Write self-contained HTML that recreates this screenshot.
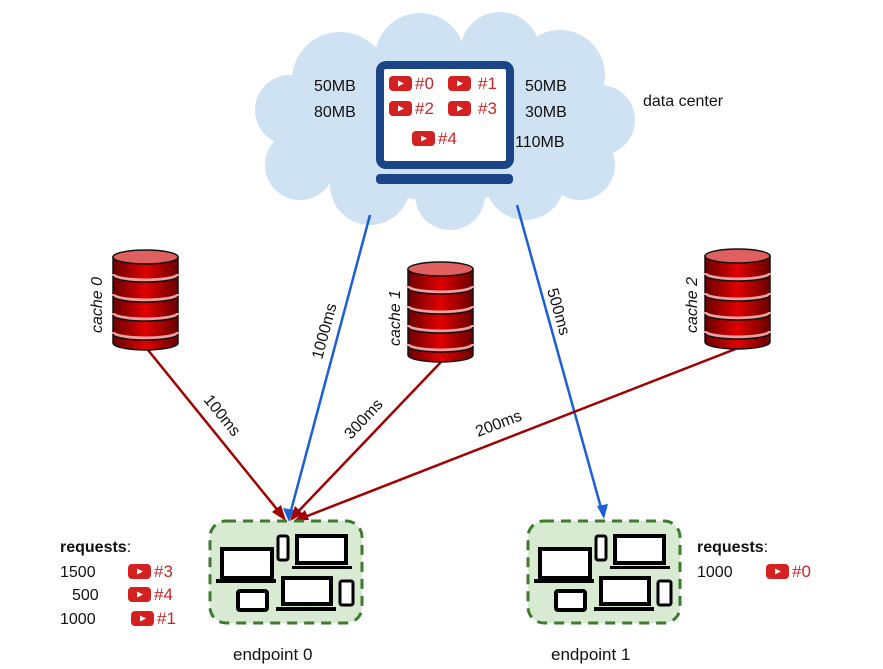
<!DOCTYPE html>
<html><head><meta charset="utf-8"><style>
html,body{margin:0;padding:0;background:#fff;}
svg{display:block;font-family:"Liberation Sans",sans-serif;}
</style></head><body>
<svg width="883" height="669" viewBox="0 0 883 669" xmlns="http://www.w3.org/2000/svg">
<defs>
<linearGradient id="cg" x1="0" x2="1" y1="0" y2="0">
<stop offset="0" stop-color="#6a0000"/><stop offset="0.5" stop-color="#e00000"/><stop offset="1" stop-color="#6a0000"/>
</linearGradient>
<g id="cyl">
<path d="M0,7 L0,93 A32.5,7 0 0 0 65,93 L65,7 Z" fill="url(#cg)" stroke="#111" stroke-width="1.5"/>
<ellipse cx="32.5" cy="7" rx="32.5" ry="7" fill="#e06060" stroke="#111" stroke-width="1.5"/>
<path d="M0,24 A32.5,6 0 0 0 65,24" fill="none" stroke="#f0a0a0" stroke-width="3"/>
<path d="M0,26 A32.5,6 0 0 0 65,26" fill="none" stroke="#111" stroke-width="1.5"/>
<path d="M0,44 A32.5,6 0 0 0 65,44" fill="none" stroke="#f0a0a0" stroke-width="3"/>
<path d="M0,46 A32.5,6 0 0 0 65,46" fill="none" stroke="#111" stroke-width="1.5"/>
<path d="M0,63 A32.5,6 0 0 0 65,63" fill="none" stroke="#f0a0a0" stroke-width="3"/>
<path d="M0,65 A32.5,6 0 0 0 65,65" fill="none" stroke="#111" stroke-width="1.5"/>
<path d="M0,82 A32.5,6 0 0 0 65,82" fill="none" stroke="#f0a0a0" stroke-width="3"/>
<path d="M0,84 A32.5,6 0 0 0 65,84" fill="none" stroke="#111" stroke-width="1.5"/>
</g>
<g id="yt">
<rect x="0" y="0" width="23" height="15" rx="4" fill="#d42020"/>
<path d="M9,4.5 L15,7.5 L9,10.5 Z" fill="#fff"/>
</g>
<g id="ep">
<rect x="10" y="21" width="152" height="102" rx="16" fill="#d9ead3" stroke="#3d7a2e" stroke-width="3" stroke-dasharray="10,7"/>
<rect x="22" y="49" width="50" height="29" fill="#fff" stroke="#000" stroke-width="4"/>
<rect x="16" y="79" width="60" height="4" fill="#000"/>
<rect x="78" y="36" width="10" height="24" rx="2" fill="#fff" stroke="#000" stroke-width="3"/>
<rect x="97" y="36" width="49" height="27" fill="#fff" stroke="#000" stroke-width="4"/>
<rect x="92" y="66" width="60" height="3" fill="#000"/>
<rect x="38" y="91" width="29" height="19" rx="2" fill="#fff" stroke="#000" stroke-width="4"/>
<rect x="83" y="78" width="48" height="26" fill="#fff" stroke="#000" stroke-width="4"/>
<rect x="76" y="107" width="60" height="4" fill="#000"/>
<rect x="140" y="81" width="13" height="24" rx="2" fill="#fff" stroke="#000" stroke-width="3"/>
</g>
</defs>

<!-- cloud -->
<g fill="#cfe2f3">
<ellipse cx="445" cy="120" rx="170" ry="80"/>
<circle cx="340" cy="80" r="48"/>
<circle cx="420" cy="58" r="45"/>
<circle cx="500" cy="52" r="40"/>
<circle cx="560" cy="75" r="45"/>
<circle cx="600" cy="120" r="35"/>
<circle cx="290" cy="110" r="35"/>
<circle cx="300" cy="165" r="35"/>
<circle cx="370" cy="185" r="40"/>
<circle cx="450" cy="195" r="35"/>
<circle cx="525" cy="180" r="40"/>
<circle cx="580" cy="165" r="35"/>
</g>
<!-- monitor -->
<rect x="380" y="65" width="130" height="100" rx="6" fill="#fff" stroke="#1c4587" stroke-width="8"/>
<rect x="376" y="174" width="137" height="10" rx="4" fill="#1c4587"/>
<use href="#yt" x="389" y="76"/><text x="415" y="89" font-size="17" fill="#c62828">#0</text>
<use href="#yt" x="448" y="76"/><text x="478" y="89" font-size="17" fill="#c62828">#1</text>
<use href="#yt" x="389" y="101"/><text x="415" y="114" font-size="17" fill="#c62828">#2</text>
<use href="#yt" x="448" y="101"/><text x="478" y="114" font-size="17" fill="#c62828">#3</text>
<use href="#yt" x="412" y="131"/><text x="438" y="144" font-size="17" fill="#c62828">#4</text>
<g font-size="16" fill="#111">
<text x="314" y="91">50MB</text><text x="314" y="117">80MB</text>
<text x="525" y="91">50MB</text><text x="525" y="117">30MB</text><text x="515" y="147">110MB</text>
<text x="643" y="106">data center</text>
</g>

<!-- lines -->
<g stroke-width="2.5" fill="none">
<line x1="370" y1="215" x2="289" y2="518" stroke="#1a5fd6"/>
<line x1="517" y1="205" x2="603" y2="515" stroke="#1a5fd6"/>
<line x1="148" y1="350" x2="284" y2="518" stroke="#a00000"/>
<line x1="441" y1="362" x2="292" y2="518" stroke="#a00000"/>
<line x1="738" y1="348" x2="297" y2="520" stroke="#a00000"/>
</g>
<path d="M289,522 L283,508 L294,510 Z" fill="#1a5fd6"/>
<path d="M604,519 L597,506 L608,504 Z" fill="#1a5fd6"/>
<path d="M286,521 L272,512 L281,505 Z" fill="#a00000"/>
<path d="M290,521 L295,506 L303,514 Z" fill="#a00000"/>
<path d="M294,521 L305,510 L309,520 Z" fill="#a00000"/>

<g font-size="16" fill="#111">
<text transform="translate(322,360) rotate(-75)">1000ms</text>
<text transform="translate(547,290) rotate(74)">500ms</text>
<text transform="translate(203,400) rotate(51)">100ms</text>
<text transform="translate(351,440) rotate(-47)">300ms</text>
<text transform="translate(478,437) rotate(-21)">200ms</text>
</g>

<use href="#cyl" x="113" y="250"/>
<use href="#cyl" x="408" y="262"/>
<use href="#cyl" x="705" y="249"/>
<g font-size="16" fill="#111" font-style="italic">
<text transform="translate(102,333) rotate(-90)">cache 0</text>
<text transform="translate(400,346) rotate(-90)">cache 1</text>
<text transform="translate(697,333) rotate(-90)">cache 2</text>
</g>

<use href="#ep" x="200" y="500"/>
<use href="#ep" x="518" y="500"/>
<g font-size="17" fill="#111">
<text x="233" y="660">endpoint 0</text>
<text x="551" y="660">endpoint 1</text>
</g>

<g font-size="16" fill="#111">
<text x="60" y="552" font-weight="bold">requests<tspan font-weight="normal">:</tspan></text>
<text x="60" y="577">1500</text><text x="72" y="600">500</text><text x="60" y="624">1000</text>
<text x="697" y="552" font-weight="bold">requests<tspan font-weight="normal">:</tspan></text>
<text x="697" y="577">1000</text>
</g>
<use href="#yt" x="128" y="564"/><text x="154" y="577" font-size="17" fill="#c62828">#3</text>
<use href="#yt" x="128" y="587"/><text x="154" y="600" font-size="17" fill="#c62828">#4</text>
<use href="#yt" x="131" y="611"/><text x="157" y="624" font-size="17" fill="#c62828">#1</text>
<use href="#yt" x="766" y="564"/><text x="792" y="577" font-size="17" fill="#c62828">#0</text>
</svg>
</body></html>
